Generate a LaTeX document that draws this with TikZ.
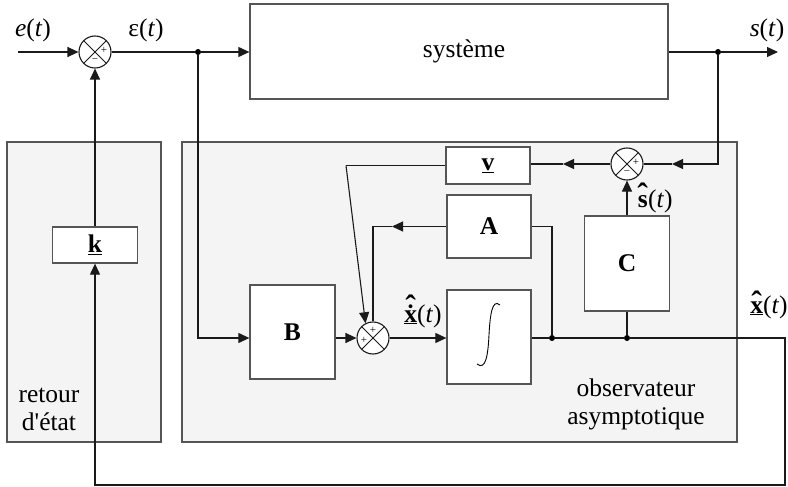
\documentclass[tikz,border=0pt]{standalone}
\usepackage{fontspec}
\setmainfont{Liberation Serif}
\newfontfamily\plainserif{Liberation Serif}
\usetikzlibrary{arrows.meta}
\definecolor{panel}{HTML}{F4F4F4}
\definecolor{edge}{HTML}{555555}
\definecolor{wire}{HTML}{1A1A1A}
\newcommand{\hatmark}{{\fontsize{32}{32}\selectfont\bfseries\char"02C6}}
\newcommand{\dotmark}{{\bfseries\char"02D9}}
\newcommand{\hatof}[2]{\leavevmode\vbox{\offinterlineskip\halign{\hfil##\hfil\cr\hatmark\cr\noalign{\kern#1}#2\cr}}}
\newcommand{\hatdotof}[1]{\leavevmode\vbox{\offinterlineskip\halign{\hfil##\hfil\cr\hatmark\cr\noalign{\kern-13pt}\dotmark\cr\noalign{\kern-12pt}#1\cr}}}
\begin{document}
\begin{tikzpicture}[x=1pt,y=-1pt,
  font=\fontsize{25.5}{28}\selectfont,
  ln/.style={line width=1.1pt, draw=wire},
  arr/.style={ln, -{Triangle[length=11pt,width=10pt]}},
  panelbox/.style={draw=edge, line width=1.3pt, fill=panel, inner sep=0pt},
  blk/.style={draw=edge, line width=1.3pt, fill=white, inner sep=0pt},
  sum/.style={circle, draw=wire, line width=1.1pt, fill=white, minimum size=32pt, inner sep=0pt,
     path picture={\draw[line width=1pt, wire] (path picture bounding box.north west) -- (path picture bounding box.south east) (path picture bounding box.north east) -- (path picture bounding box.south west);}},
  sgn/.style={font=\fontsize{11}{11}\selectfont, inner sep=0pt},
  jdot/.style={circle, fill=black, minimum size=6pt, inner sep=0pt},
  lbl/.style={inner sep=0pt}
]
\useasboundingbox (0,0) rectangle (788,487);

% panels
\node[panelbox, minimum width=154pt, minimum height=300pt] (fbpanel) at (84,292) {};
\node[panelbox, minimum width=555pt, minimum height=300pt] (obspanel) at (459.5,292) {};
\node[align=center, inner sep=0pt] (fbtext) at (49,409) {retour\\{\plainserif d'état}};
\node[align=center, inner sep=0pt] (obstext) at (636,404) {observateur\\asymptotique};

% blocks
\node[blk, minimum width=418pt, minimum height=95pt] (sys) at (459,51.5) {\hspace*{10pt}système};
\node[blk, minimum width=85pt, minimum height=36pt] (k) at (95,245) {\underline{\textbf{k}}};
\node[blk, minimum width=84pt, minimum height=37pt] (v) at (488,165.5) {\underline{\textbf{v}}};
\node[blk, minimum width=84pt, minimum height=63pt] (A) at (489,226.5) {\textbf{A}};
\node[blk, minimum width=85pt, minimum height=95pt] (C) at (627,263.5) {\textbf{C}};
\node[blk, minimum width=85pt, minimum height=94pt] (B) at (292.5,332) {\textbf{B}};
\node[blk, minimum width=84pt, minimum height=94pt] (I) at (489,337) {};
\draw[line width=0.9pt, black] (500,305) .. controls (492,298) and (490,316) .. (489,335)
   .. controls (488,354) and (486,371) .. (477,364);

% summing junctions
\node[sum] (s1) at (95,52) {};
\node[sum] (s2) at (627,164) {};
\node[sum] (s3) at (373,338) {};
\node[sgn] at (104,50) {+};
\node[sgn] at (95,61) {\textminus};
\node[sgn] at (636,162) {+};
\node[sgn] at (627,173) {\textminus};
\node[sgn] at (364,340) {+};
\node[sgn] at (373,330) {+};

% labels
\node[lbl] (lbe) at (33,30) {\textit{e}(\textit{t})};
\node[lbl] (lbeps) at (146,30) {ε(\textit{t})};
\node[lbl] (lbs) at (767,30) {\textit{s}(\textit{t})};
\node[lbl, anchor=base] (lbsh) at (655,207) {\hatof{-11pt}{\textbf{s}}(\textit{t})};
\node[lbl, anchor=base] (lbxd) at (423,322) {\hatdotof{\underline{\textbf{x}}}(\textit{t})};
\node[lbl, anchor=base] (lbxh) at (769,313) {\hatof{-12pt}{\underline{\textbf{x}}}(\textit{t})};

% junction dots and coordinates
\node[jdot] (b1) at (198,52) {};
\node[jdot] (b2) at (718,52) {};
\node[jdot] (dA) at (552,338) {};
\node[jdot] (dC) at (627,338) {};
\coordinate (in) at (18,52);
\coordinate (out) at (778,52);
\coordinate (m2) at (672,164);
\coordinate (m3) at (563,164);
\coordinate (vb) at (346,165.5);
\coordinate (am) at (392,226.5);
\coordinate (ac) at (373,226.5);
\coordinate (c1) at (785,338);
\coordinate (c2) at (785,485);

% connectors
\draw[arr] (in) -- (s1.west);
\draw[ln] (s1.east) -- (b1);
\draw[arr] (b1) -- (sys.west |- b1);
\draw[ln] (sys.east |- b2) -- (b2);
\draw[arr] (b2) -- (out);
\draw[arr] (b2) |- (m2);
\draw[ln] (m2) -- (s2.east);
\draw[arr] (s2.west) -- (m3);
\draw[ln] (m3) -- (v.east |- m3);
\draw[arr] (C.north) -- (s2.south);
\draw[ln] (v.west) -- (vb);
\draw[arr] (vb) -- (s3.117);
\draw[arr] (A.west) -- (am);
\draw[ln] (am) -- (ac) -- (s3.north);
\draw[arr] (b1) |- (B.west |- s3);
\draw[arr] (B.east |- s3) -- (s3.west);
\draw[arr] (s3.east) -- (I.west |- s3);
\draw[ln] (I.east |- s3) -- (dA) -- (dC);
\draw[ln] (dA) |- (A.east);
\draw[ln] (dC) -- (C.south);
\draw[arr] (dC) -- (c1) -- (c2) -- (k.south |- c2) -- (k.south);
\draw[arr] (k.north) -- (s1.south);
\end{tikzpicture}
\end{document}
